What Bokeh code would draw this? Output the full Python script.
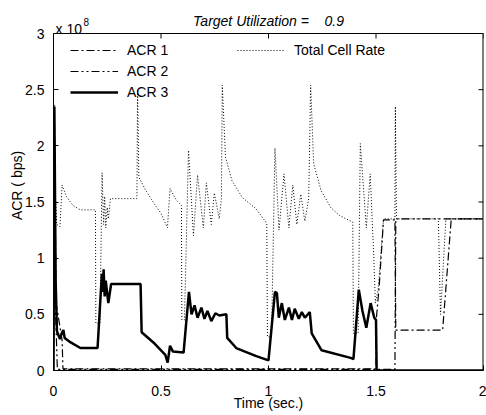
import math
from bokeh.plotting import figure
from bokeh.models import (Range1d, Legend, LegendItem, Label, Span,
                          FixedTicker)
from bokeh.embed import file_html
from bokeh.resources import INLINE

# ---------------- data (rates in units of 1e8 bps) ----------------
x_ticks = [0, 0.5, 1, 1.5, 2]
x_tick_labels = ["0", "0.5", "1", "1.5", "2"]
y_ticks = [0, 0.5, 1, 1.5, 2, 2.5, 3]
y_tick_labels = ["0", "0.5", "1", "1.5", "2", "2.5", "3"]

series_names = ["ACR 1", "ACR 2", "ACR 3", "Total Cell Rate"]

t_acr1 = [0.000, 0.004, 0.012, 0.040, 0.044, 1.500, 1.501, 1.515, 1.535,
          1.588, 1.592, 1.810, 1.850, 2.000]
acr1 = [0.00, 2.30, 0.60, 0.27, 0.015, 0.015, 0.45, 0.75, 1.34,
        1.34, 0.36, 0.36, 1.35, 1.35]

t_acr2 = [0.000, 0.004, 0.010, 0.018, 1.588, 1.592, 2.000]
acr2 = [0.00, 2.20, 0.50, 0.01, 0.01, 1.35, 1.35]

t_acr3 = [0.000, 0.004, 0.010, 0.016, 0.030, 0.040, 0.046, 0.052, 0.080,
          0.125, 0.205, 0.225, 0.229, 0.233, 0.238, 0.243, 0.255, 0.268,
          0.405, 0.410, 0.470, 0.520, 0.531, 0.542, 0.555, 0.605, 0.630,
          0.642, 0.656, 0.670, 0.688, 0.702, 0.716, 0.734, 0.753, 0.771,
          0.804, 0.808, 0.850, 0.940, 1.000, 1.030, 1.039, 1.048, 1.062,
          1.076, 1.095, 1.109, 1.122, 1.141, 1.155, 1.169, 1.192, 1.201,
          1.247, 1.386, 1.395, 1.420, 1.437, 1.455, 1.475, 1.492, 1.500,
          1.503, 2.000]
acr3 = [0.00, 2.35, 0.80, 0.35, 0.28, 0.34, 0.36, 0.29, 0.25,
        0.20, 0.20, 0.86, 0.70, 0.90, 0.66, 0.80, 0.60, 0.77,
        0.77, 0.34, 0.24, 0.14, 0.07, 0.22, 0.17, 0.16, 0.70,
        0.50, 0.58, 0.47, 0.56, 0.46, 0.53, 0.44, 0.51, 0.49,
        0.50, 0.29, 0.20, 0.13, 0.09, 0.70, 0.69, 0.47, 0.60,
        0.45, 0.56, 0.45, 0.55, 0.46, 0.52, 0.47, 0.52, 0.33,
        0.18, 0.11, 0.10, 0.72, 0.53, 0.38, 0.60, 0.47, 0.45,
        0.00, 0.00]

t_total = [0.000, 0.003, 0.008, 0.015, 0.030, 0.040, 0.060, 0.090, 0.125,
           0.195, 0.197, 0.216, 0.226, 0.233, 0.238, 0.243, 0.250, 0.255,
           0.265, 0.388, 0.391, 0.397, 0.430, 0.470, 0.500, 0.530, 0.542,
           0.570, 0.595, 0.597, 0.609, 0.628, 0.651, 0.670, 0.697, 0.711,
           0.734, 0.748, 0.771, 0.781, 0.785, 0.800, 0.830, 0.878, 0.942,
           0.992, 0.995, 1.014, 1.030, 1.049, 1.072, 1.095, 1.113, 1.132,
           1.150, 1.169, 1.187, 1.196, 1.210, 1.245, 1.290, 1.330, 1.392,
           1.395, 1.417, 1.427, 1.455, 1.473, 1.490, 1.497, 1.510, 1.535,
           1.588, 1.590, 1.595, 1.790, 1.800, 1.825, 2.000]
total = [0.00, 2.37, 1.60, 1.30, 1.28, 1.65, 1.55, 1.47, 1.43,
         1.43, 0.42, 0.42, 1.76, 1.30, 1.55, 1.27, 1.45, 1.35,
         1.53, 1.53, 2.50, 1.72, 1.60, 1.48, 1.40, 1.27, 1.62,
         1.52, 1.47, 0.45, 0.45, 1.96, 1.20, 1.74, 1.27, 1.67,
         1.30, 1.58, 1.35, 1.53, 2.54, 1.90, 1.69, 1.54, 1.44,
         1.31, 0.30, 0.30, 1.98, 1.25, 1.75, 1.27, 1.65, 1.30,
         1.57, 1.33, 1.53, 2.54, 1.84, 1.60, 1.45, 1.38, 1.32,
         0.33, 0.33, 2.02, 1.27, 1.75, 1.00, 0.60, 0.72, 1.35,
         1.35, 2.35, 1.35, 1.35, 0.50, 1.35, 1.35]

title_text = "Target Utilization =\u00a0\u00a0\u00a0\u00a00.9"
scale_text = "x 10"
scale_exp = "8"
x_label = "Time (sec.)"
y_label = "ACR ( bps)"

# ---------------- layout ----------------
FONT = "Liberation Sans"
FS = "14px"
W, H = 486, 415
BORDER_L, BORDER_R, BORDER_B = 53, 3, 45
BOX_TOP_PX = 33                      # box top, px from canvas top
FRAME_H = H - BORDER_B               # frame reaches canvas top
y_top = y_ticks[-1] * FRAME_H / (FRAME_H - BOX_TOP_PX)
x0, x1 = x_ticks[0], x_ticks[-1]
y0, y1 = y_ticks[0], y_ticks[-1]

p = figure(width=W, height=H, output_backend="svg", toolbar_location=None,
           x_range=Range1d(x0, x1), y_range=Range1d(y0, y_top),
           min_border_left=BORDER_L, min_border_right=BORDER_R,
           min_border_top=0, min_border_bottom=BORDER_B)
p.grid.visible = False
p.outline_line_color = None
p.background_fill_color = "white"
p.border_fill_color = "white"

def style_axis(ax, ticks, labels, bounds):
    ax.ticker = FixedTicker(ticks=ticks)
    ax.major_label_overrides = {v: s for v, s in zip(ticks, labels)}
    ax.bounds = bounds
    ax.major_tick_in = 5
    ax.major_tick_out = 0
    ax.minor_tick_in = 0
    ax.minor_tick_out = 0
    ax.axis_line_color = "black"
    ax.major_tick_line_color = "black"
    ax.major_label_text_font = FONT
    ax.major_label_text_font_size = FS
    ax.major_label_text_color = "black"
    ax.axis_label_text_font = FONT
    ax.axis_label_text_font_size = FS
    ax.axis_label_text_font_style = "normal"
    ax.axis_label_text_color = "black"

xa = p.xaxis[0]
ya = p.yaxis[0]
style_axis(xa, x_ticks, x_tick_labels, (x0, x1))
style_axis(ya, y_ticks, y_tick_labels, (y0, y1))
xa.axis_label = x_label
ya.axis_label = y_label
xa.major_label_standoff = 15
xa.axis_label_standoff = -4
ya.major_label_standoff = 9
ya.axis_label_standoff = -3

# box: top edge, right edge, inward ticks on top and right
p.add_layout(Span(location=y1, dimension="width", line_color="black", line_width=1))
p.segment(x0=[x1], y0=[y0], x1=[x1], y1=[y1], line_color="black", line_width=2)
p.ray(x=x_ticks, y=[y1] * len(x_ticks), length=5, length_units="screen",
      angle=-math.pi / 2, line_color="black", line_width=1)
p.ray(x=[x1] * len(y_ticks), y=y_ticks, length=5, length_units="screen",
      angle=math.pi, line_color="black", line_width=1)

# ---------------- lines ----------------
r1 = p.line(t_acr1, acr1, line_color="black", line_width=1.2, line_dash="8 3 2 3")
r2 = p.line(t_acr2, acr2, line_color="black", line_width=1.2, line_dash="8 3 2 3 2 3")
r3 = p.line(t_acr3, acr3, line_color="black", line_width=2.5)
r4 = p.line(t_total, total, line_color="black", line_width=1, line_dash="1 2")

legend = Legend(items=[LegendItem(label=n, renderers=[r])
                       for n, r in zip(series_names, [r1, r2, r3, r4])],
                location=(17, 270), orientation="vertical", nrows=3,
                border_line_color=None, background_fill_alpha=0,
                label_text_font=FONT, label_text_font_size=FS,
                label_text_color="black",
                glyph_width=48, glyph_height=16, label_height=16,
                label_standoff=9, label_width=105, spacing=5,
                padding=4, margin=0)
p.add_layout(legend)

# ---------------- texts above the box ----------------
p.add_layout(Label(x=(x0 + x1) / 2, y=y1, y_offset=13, text=title_text,
                   text_align="center", text_baseline="alphabetic",
                   text_font=FONT, text_font_size=FS, text_font_style="italic",
                   text_color="black"))
p.add_layout(Label(x=x0, y=y1, x_offset=2, y_offset=5, text=scale_text,
                   text_baseline="alphabetic",
                   text_font=FONT, text_font_size=FS, text_color="black"))
p.add_layout(Label(x=x0, y=y1, x_offset=30, y_offset=12, text=scale_exp,
                   text_baseline="alphabetic",
                   text_font=FONT, text_font_size="10px", text_color="black"))

open("out.html", "w").write(file_html(p, INLINE))
